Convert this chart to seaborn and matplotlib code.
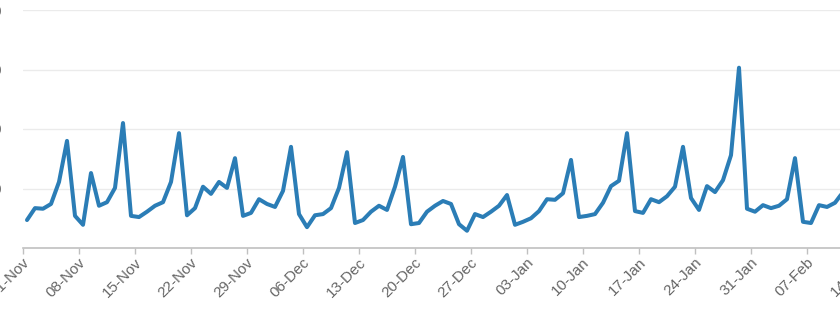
import numpy as np
import pandas as pd
import matplotlib
matplotlib.use("Agg")
import matplotlib.pyplot as plt
import matplotlib.dates as mdates
import matplotlib.transforms as mtransforms
import seaborn as sns

# ---- data (daily values) ----
start_date = "2016-11-01"
values = [47, 67, 66, 74, 111, 180, 54, 39, 126, 71,
          77, 101, 210, 54, 52, 61, 71, 77, 111, 193,
          55, 67, 103, 91, 111, 101, 151, 54, 59, 82,
          74, 69, 96, 170, 57, 35, 55, 57, 67, 101,
          161, 42, 47, 61, 71, 64, 103, 153, 40, 42,
          61, 71, 79, 74, 40, 29, 57, 52, 61, 71,
          89, 39, 44, 50, 62, 82, 81, 92, 148, 52,
          54, 57, 76, 104, 113, 193, 62, 59, 82, 77,
          87, 103, 170, 84, 64, 104, 94, 114, 156, 303,
          66, 61, 72, 67, 71, 82, 151, 44, 42, 72,
          69, 76, 94]
ytick_values = [100, 200, 300, 400]
ytick_labels = ["100", "200", "300", "400"]
tick_dates = pd.date_range("2016-11-01", "2017-02-14", freq="7D")

dates = pd.date_range(start_date, periods=len(values), freq="D") + pd.Timedelta(hours=12)
df = pd.DataFrame({"date": dates, "value": values})

sns.set_theme(style="white")
plt.rcParams["font.family"] = ["Liberation Sans", "DejaVu Sans"]

W, H = 840, 325
fig = plt.figure(figsize=(W / 100, H / 100), dpi=100)
left_px, right_px, top_px, bottom_px = 23, 900, 10, 248
ax = fig.add_axes([left_px / W, (H - bottom_px) / H,
                   (right_px - left_px) / W, (bottom_px - top_px) / H])

sns.lineplot(data=df, x="date", y="value", ax=ax, color="#2b7db6",
             linewidth=2.9, solid_joinstyle="round", solid_capstyle="round")

x0 = pd.Timestamp(start_date)
ax.set_xlim(x0, x0 + pd.Timedelta(days=(right_px - left_px) / 8))
ax.set_ylim(0, 400)

ax.set_yticks(ytick_values)
ax.set_yticklabels(ytick_labels)
ax.yaxis.grid(True, color="#ebebeb", linewidth=1)
ax.xaxis.grid(False)

ax.set_xticks(tick_dates)
ax.xaxis.set_major_formatter(mdates.DateFormatter("%d-%b"))

for s in ["top", "right", "left"]:
    ax.spines[s].set_visible(False)
ax.spines["bottom"].set_color("#c0c0c0")
ax.spines["bottom"].set_linewidth(1.2)

ax.tick_params(axis="y", length=0, pad=15, labelsize=11, labelcolor="#666666")
ax.tick_params(axis="x", length=4, width=1, color="#c0c0c0", pad=5,
               labelsize=11, labelcolor="#666666", bottom=True)
offset = mtransforms.ScaledTranslation(0.045, 0, fig.dpi_scale_trans)
for lab in ax.get_xticklabels():
    lab.set_rotation(45)
    lab.set_ha("right")
    lab.set_va("center")
    lab.set_rotation_mode("anchor")
    lab.set_transform(lab.get_transform() + offset)

ax.set_xlabel("")
ax.set_ylabel("")

fig.savefig("out.png", dpi=100)
